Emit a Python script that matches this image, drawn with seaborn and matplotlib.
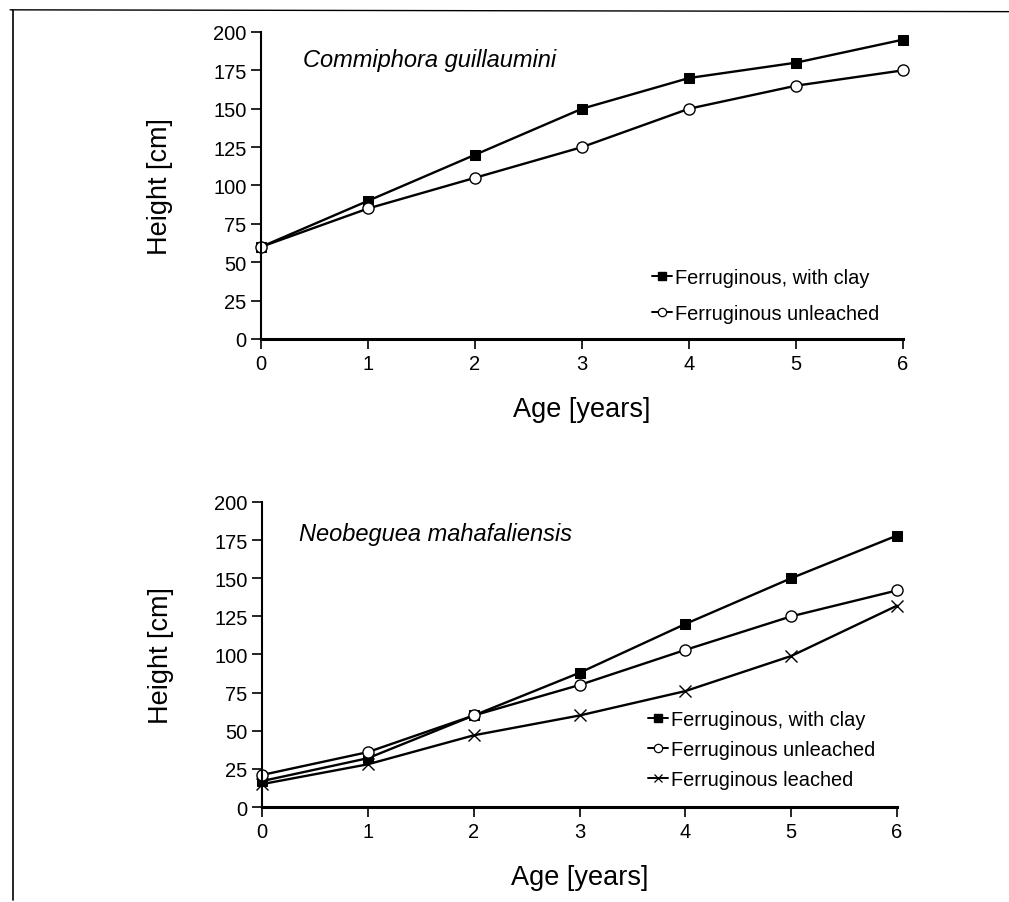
import matplotlib
matplotlib.use("Agg")
import matplotlib.pyplot as plt
import seaborn as sns
import pandas as pd
from matplotlib.lines import Line2D

sns.set_theme(style="ticks")
plt.rcParams['font.family'] = ['Liberation Sans', 'DejaVu Sans']
for k in ["text.color", "axes.labelcolor", "xtick.color", "ytick.color", "axes.edgecolor"]:
    plt.rcParams[k] = "black"

ages = [0, 1, 2, 3, 4, 5, 6]

# Commiphora guillaumini
cg_clay = [60, 90, 120, 150, 170, 180, 195]
cg_unleached = [60, 85, 105, 125, 150, 165, 175]

# Neobeguea mahafaliensis
nm_clay = [17, 32, 60, 88, 120, 150, 178]
nm_unleached = [21, 36, 60, 80, 103, 125, 142]
nm_leached = [15, 28, 47, 60, 76, 99, 132]

series_names = ["Ferruginous, with clay", "Ferruginous unleached", "Ferruginous leached"]
yticks = [0, 25, 50, 75, 100, 125, 150, 175, 200]
titles = ["Commiphora guillaumini", "Neobeguea mahafaliensis"]

styles = {
    "Ferruginous, with clay": dict(marker="s", markersize=7, markerfacecolor="black", markeredgecolor="black"),
    "Ferruginous unleached": dict(marker="o", markersize=8, markerfacecolor="white", markeredgecolor="black", markeredgewidth=1.0),
    "Ferruginous leached": dict(marker="x", markersize=8, markeredgecolor="black", markeredgewidth=1.0),
}
leg_styles = {
    "Ferruginous, with clay": dict(marker="s", markersize=5.5, markerfacecolor="black", markeredgecolor="black"),
    "Ferruginous unleached": dict(marker="o", markersize=6, markerfacecolor="white", markeredgecolor="black", markeredgewidth=0.9),
    "Ferruginous leached": dict(marker="x", markersize=6, markeredgecolor="black", markeredgewidth=0.9),
}

fig = plt.figure(figsize=(10.09, 9.03), dpi=100)
ax1 = fig.add_axes([0.2587, 0.6235, 0.6363, 0.3400])
ax2 = fig.add_axes([0.2597, 0.1052, 0.6293, 0.3378])

panels = [
    (ax1, [cg_clay, cg_unleached], (0.609, 0.231), 0.85, (0.065, 0.909)),
    (ax2, [nm_clay, nm_unleached, nm_leached], (0.608, 0.318), 0.55, (0.058, 0.895)),
]

for i, (ax, data, legpos, lspace, tpos) in enumerate(panels):
    handles = []
    for name, vals in zip(series_names, data):
        df = pd.DataFrame({"Age": ages, "Height": vals})
        sns.lineplot(data=df, x="Age", y="Height", ax=ax, color="black",
                     linewidth=1.7, **styles[name])
        handles.append(Line2D([], [], color="black", linewidth=1.4, **leg_styles[name]))
    ax.set_xlim(0, 6)
    ax.set_ylim(0, 200)
    ax.set_xticks(ages)
    ax.set_yticks(yticks)
    ax.tick_params(axis="both", labelsize=14.5, length=7, width=1.2, direction="out", colors="black")
    for s in ["top", "right"]:
        ax.spines[s].set_visible(False)
    for s in ["left", "bottom"]:
        ax.spines[s].set_linewidth(1.5)
        ax.spines[s].set_color("black")
    ax.spines["bottom"].set_linewidth(2.2)
    ax.set_xlabel("Age [years]", fontsize=19.5, labelpad=17)
    ax.set_ylabel("Height [cm]", fontsize=19.5, labelpad=29)
    ax.text(tpos[0], tpos[1], titles[i], transform=ax.transAxes, fontsize=17,
            style="italic", va="center", ha="left")
    ax.legend(handles, series_names[:len(data)], loc="upper left",
              bbox_to_anchor=legpos, frameon=False, fontsize=14.4,
              handlelength=1.0, handletextpad=0.15, labelspacing=lspace,
              borderaxespad=0, borderpad=0)
    for line in ax.lines:
        line.set_clip_on(False)

# scanned page border
fig.add_artist(Line2D([0.010, 1.0], [0.988, 0.986], color="black", linewidth=1.0, transform=fig.transFigure))
fig.add_artist(Line2D([0.013, 0.013], [0.988, 0.002], color="black", linewidth=1.2, transform=fig.transFigure))

fig.savefig("out.png", dpi=100)
